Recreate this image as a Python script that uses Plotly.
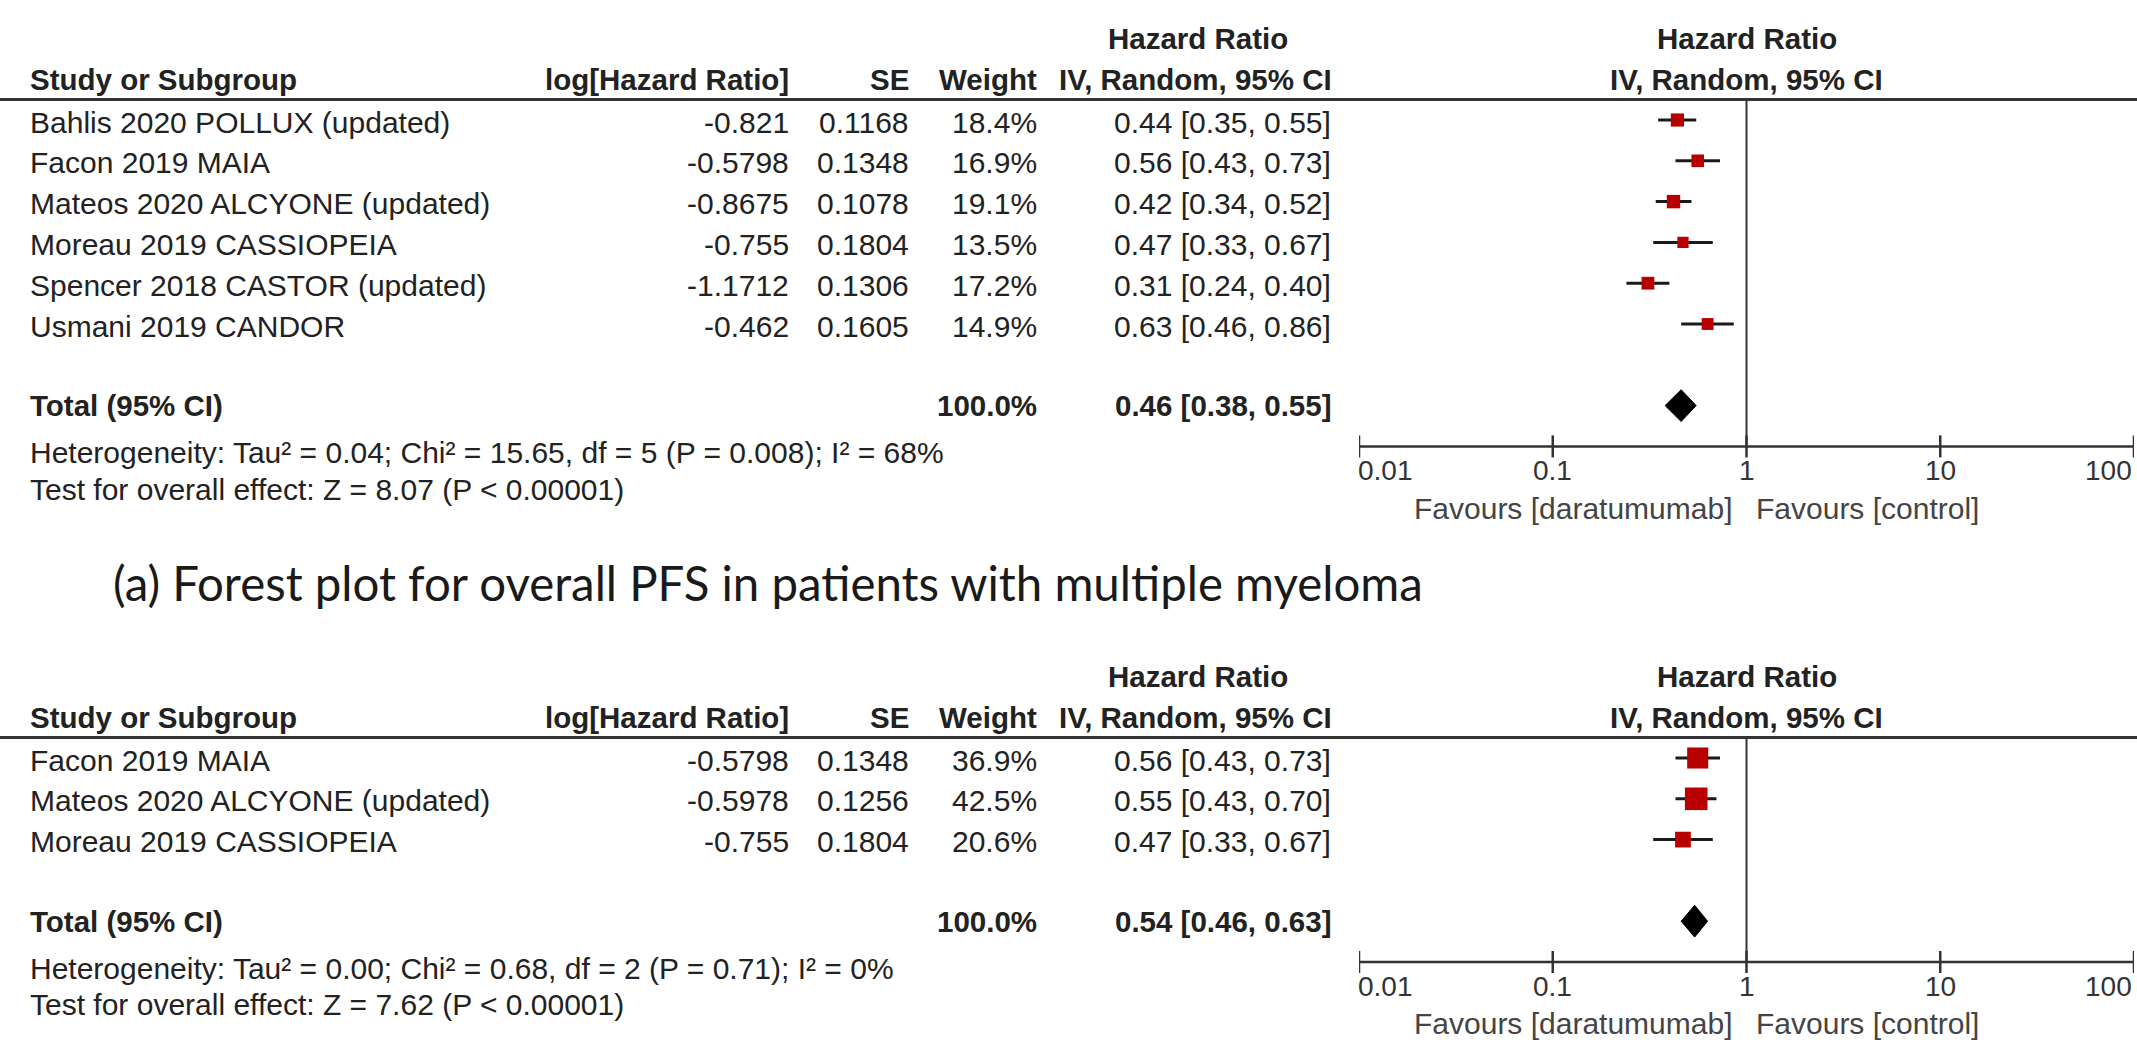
import plotly.graph_objects as go

# ---------------- data ----------------
tick_vals = [0.01, 0.1, 1, 10, 100]
tick_text = ["0.01", "0.1", "1", "10", "100"]

studies1 = ["Bahlis 2020 POLLUX (updated)", "Facon 2019 MAIA", "Mateos 2020 ALCYONE (updated)",
            "Moreau 2019 CASSIOPEIA", "Spencer 2018 CASTOR (updated)", "Usmani 2019 CANDOR"]
loghr1 = [-0.821, -0.5798, -0.8675, -0.755, -1.1712, -0.462]
se1 = [0.1168, 0.1348, 0.1078, 0.1804, 0.1306, 0.1605]
weight1 = [18.4, 16.9, 19.1, 13.5, 17.2, 14.9]
hr1 = [0.44, 0.56, 0.42, 0.47, 0.31, 0.63]
lo1 = [0.35, 0.43, 0.34, 0.33, 0.24, 0.46]
hi1 = [0.55, 0.73, 0.52, 0.67, 0.40, 0.86]
total1 = [0.46, 0.38, 0.55]
het1 = "Heterogeneity: Tau² = 0.04; Chi² = 15.65, df = 5 (P = 0.008); I² = 68%"
test1 = "Test for overall effect: Z = 8.07 (P < 0.00001)"

studies2 = ["Facon 2019 MAIA", "Mateos 2020 ALCYONE (updated)", "Moreau 2019 CASSIOPEIA"]
loghr2 = [-0.5798, -0.5978, -0.755]
se2 = [0.1348, 0.1256, 0.1804]
weight2 = [36.9, 42.5, 20.6]
hr2 = [0.56, 0.55, 0.47]
lo2 = [0.43, 0.43, 0.33]
hi2 = [0.73, 0.70, 0.67]
total2 = [0.54, 0.46, 0.63]
het2 = "Heterogeneity: Tau² = 0.00; Chi² = 0.68, df = 2 (P = 0.71); I² = 0%"
test2 = "Test for overall effect: Z = 7.62 (P < 0.00001)"

caption = "(a) Forest plot for overall PFS in patients with multiple myeloma"
fav_left = "Favours [daratumumab]"
fav_right = "Favours [control]"

# ---------------- layout constants ----------------
W, H = 2137, 1042
ROW = 40.8                 # px per row
FOREST_X0, FOREST_X1 = 1359, 2134
FONT = "Liberation Sans, Arial, sans-serif"
FS = 30
FSB = 29.5
TXT = "#222222"
RED = "#b80000"

def px(x):
    return x / W

fig = go.Figure()
annotations = []
shapes = []

panels = [
    dict(top=120, studies=studies1, loghr=loghr1, se=se1, w=weight1, hr=hr1, lo=lo1, hi=hi1,
         total=total1, het=het1, test=test1, sq=3.07, fav=1.52, xa="x", ya="y"),
    dict(top=758, studies=studies2, loghr=loghr2, se=se2, w=weight2, hr=hr2, lo=lo2, hi=hi2,
         total=total2, het=het2, test=test2, sq=3.47, fav=1.5, xa="x2", ya="y2"),
]

def ann(text, x, y, xref, yref, xanchor="left", bold=False, size=None, color=TXT, family=FONT, xshift=0):
    annotations.append(dict(
        text=("<b>%s</b>" % text) if bold else text, x=x, y=y, xref=xref, yref=yref,
        xanchor=xanchor, yanchor="middle", showarrow=False, borderpad=0, xshift=xshift,
        font=dict(family=family, size=size or (FSB if bold else FS), color=color)))

for p in panels:
    xa, ya = p["xa"], p["ya"]
    n = len(p["studies"])
    rows = list(range(n))
    trow = n + 1
    arow = n + 2

    # headers
    ann("Hazard Ratio", px(1198), -2, "paper", ya, "center", bold=True)
    ann("Hazard Ratio", 0, -2, xa, ya, "center", bold=True)
    ann("Study or Subgroup", px(29), -1, "paper", ya, "left", bold=True)
    ann("log[Hazard Ratio]", px(790), -1, "paper", ya, "right", bold=True)
    ann("SE", px(910), -1, "paper", ya, "right", bold=True)
    ann("Weight", px(1038), -1, "paper", ya, "right", bold=True)
    ann("IV, Random, 95% CI", px(1333), -1, "paper", ya, "right", bold=True)
    ann("IV, Random, 95% CI", 0, -1, xa, ya, "center", bold=True)
    shapes.append(dict(type="line", xref="paper", yref=ya, x0=0, x1=1, y0=-0.5, y1=-0.5,
                       line=dict(color="#333333", width=3)))

    # study rows
    for i in rows:
        ann(p["studies"][i], px(29), i + 0.05, "paper", ya, "left")
        ann(str(p["loghr"][i]), px(790), i + 0.05, "paper", ya, "right")
        ann(str(p["se"][i]), px(910), i + 0.05, "paper", ya, "right")
        ann("%.1f%%" % p["w"][i], px(1038), i + 0.05, "paper", ya, "right")
        ann("%.2f [%.2f, %.2f]" % (p["hr"][i], p["lo"][i], p["hi"][i]), px(1332), i + 0.05, "paper", ya, "right")

    # total
    t = p["total"]
    ann("Total (95% CI)", px(29), trow, "paper", ya, "left", bold=True)
    ann("%.1f%%" % sum(p["w"]), px(1038), trow, "paper", ya, "right", bold=True)
    ann("%.2f [%.2f, %.2f]" % (t[0], t[1], t[2]), px(1332), trow, "paper", ya, "right", bold=True)
    ann(p["het"], px(29), arow + 0.15, "paper", ya, "left")
    ann(p["test"], px(29), arow + 1.05, "paper", ya, "left")

    # null line
    fig.add_trace(go.Scatter(x=[1, 1], y=[-0.5, arow], mode="lines", xaxis=xa, yaxis=ya,
                             line=dict(color="#333333", width=2), hoverinfo="skip"))
    # axis line + ticks
    fig.add_trace(go.Scatter(x=[tick_vals[0], tick_vals[-1]], y=[arow, arow], mode="lines",
                             xaxis=xa, yaxis=ya, line=dict(color="#333333", width=2.5), hoverinfo="skip"))
    tx, ty = [], []
    for v in tick_vals:
        tx += [v, v, None]
        ty += [arow - 0.27, arow + 0.27, None]
    fig.add_trace(go.Scatter(x=tx, y=ty, mode="lines", xaxis=xa, yaxis=ya,
                             line=dict(color="#333333", width=2.5), hoverinfo="skip"))
    for k, s in enumerate(tick_text):
        anchor = "left" if k == 0 else ("right" if k == len(tick_text) - 1 else "center")
        xoff = -2 if k == 0 else (-1 if k == len(tick_text) - 1 else 0)
        ann(s, [-2, -1, 0, 1, 2][k], arow + 0.6, xa, ya, anchor, size=28, color="#333333", xshift=xoff)
    # favours
    ann(fav_left, 0, arow + p["fav"], xa, ya, "right", color="#444444", xshift=-14)
    ann(fav_right, 0, arow + p["fav"], xa, ya, "left", color="#444444", xshift=8)

    # study estimates with CIs
    fig.add_trace(go.Scatter(
        x=p["hr"], y=rows, mode="markers", xaxis=xa, yaxis=ya,
        marker=dict(symbol="square", color=RED, size=[p["sq"] * (w ** 0.5) for w in p["w"]],
                    line=dict(width=0), opacity=1),
        error_x=dict(type="data", symmetric=False,
                     array=[h - m for h, m in zip(p["hi"], p["hr"])],
                     arrayminus=[m - l for m, l in zip(p["hr"], p["lo"])],
                     width=0, thickness=3, color="#1a1a1a"),
        hoverinfo="skip"))
    # diamond
    fig.add_trace(go.Scatter(
        x=[t[1], t[0], t[2], t[0], t[1]], y=[trow, trow - 0.39, trow, trow + 0.39, trow],
        mode="lines", fill="toself", fillcolor="#000000", xaxis=xa, yaxis=ya,
        line=dict(color="#000000", width=1), hoverinfo="skip"))

# caption
annotations.append(dict(text=caption, x=px(112), y=1 - 582 / H, xref="paper", yref="paper",
                        xanchor="left", yanchor="middle", showarrow=False, borderpad=0,
                        font=dict(family="Lato, Carlito, sans-serif", size=47.4, color="#1a1a1a")))

def yrange(top):
    return [(H - top) / ROW, -top / ROW]

xdom = [FOREST_X0 / W, FOREST_X1 / W]
fig.update_layout(
    width=W, height=H, autosize=False, margin=dict(l=0, r=0, t=0, b=0),
    paper_bgcolor="white", plot_bgcolor="rgba(0,0,0,0)", showlegend=False,
    xaxis=dict(type="log", range=[-2, 2], domain=xdom, visible=False, anchor="y"),
    yaxis=dict(range=yrange(panels[0]["top"]), domain=[0, 1], visible=False, anchor="x"),
    xaxis2=dict(type="log", range=[-2, 2], domain=xdom, visible=False, anchor="y2", overlaying="x"),
    yaxis2=dict(range=yrange(panels[1]["top"]), domain=[0, 1], visible=False, anchor="x2", overlaying="y"),
    annotations=annotations, shapes=shapes,
)

fig.write_html("out.html", config={"displayModeBar": False},
               post_script="document.body.style.margin='0';document.body.style.overflow='hidden';")
